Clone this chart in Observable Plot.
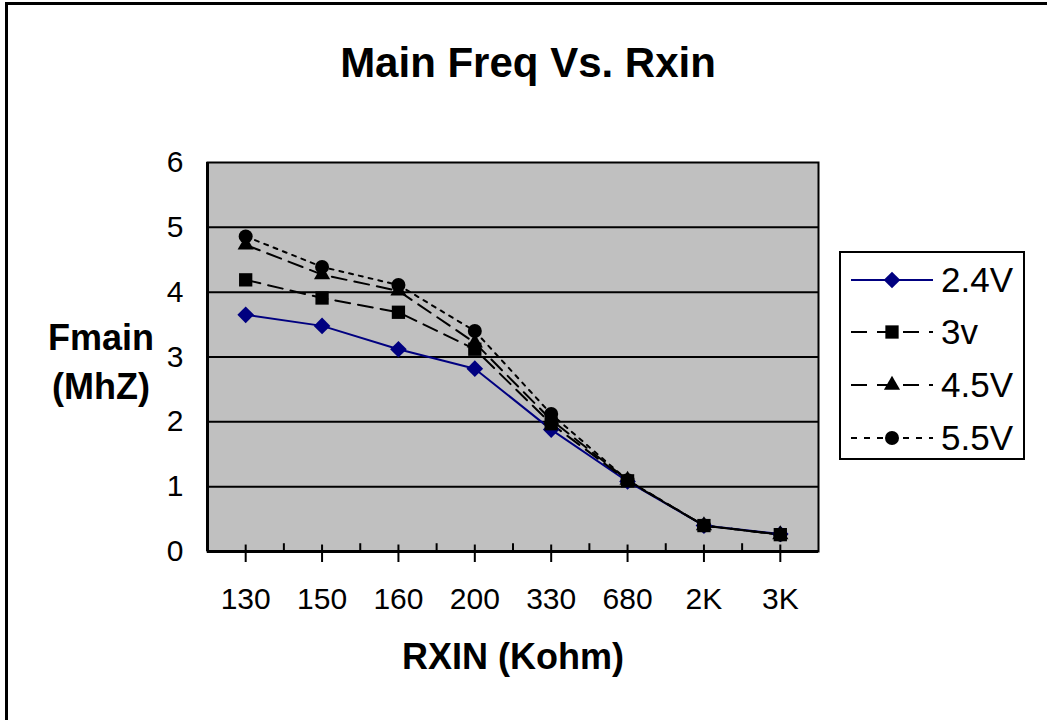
<!DOCTYPE html>
<html>
<head>
<meta charset="utf-8">
<script src="https://cdn.jsdelivr.net/npm/d3@7"></script>
<script src="https://cdn.jsdelivr.net/npm/@observablehq/plot@0.6"></script>
<style>
  html, body { margin: 0; padding: 0; background: #fff; overflow: hidden; }
  body { width: 1047px; height: 720px; position: relative; font-family: "Liberation Sans", Arial, sans-serif; }
  #frame { position: absolute; left: 5px; top: 2px; width: 1200px; height: 900px; border-left: 3px solid #000; border-top: 3px solid #000; }
  #chart { position: absolute; left: 0; top: 0; }
  .title { position: absolute; left: 0; width: 1056px; top: 40px; text-align: center; font-weight: bold; font-size: 42px; line-height: 46px; }
  .ylab { position: absolute; left: 30px; width: 142px; top: 313px; text-align: center; font-weight: bold; font-size: 36px; line-height: 49px; }
  .xlab { position: absolute; left: 300px; width: 426px; top: 636px; text-align: center; font-weight: bold; font-size: 36px; line-height: 42px; }
  #legend { position: absolute; left: 839px; top: 251px; width: 186px; height: 209px; border: 2px solid #000; background: #fff; box-sizing: border-box; }
  .row { position: absolute; left: 0; height: 40px; display: flex; align-items: center; }
  .row span { font-size: 35px; margin-left: 6px; }
</style>
</head>
<body>
<div id="frame"></div>
<div id="chart"></div>
<div class="title">Main Freq Vs. Rxin</div>
<div class="ylab">Fmain<br>(MhZ)</div>
<div class="xlab">RXIN (Kohm)</div>
<div id="legend"></div>
<script>
const categories = ["130", "150", "160", "200", "330", "680", "2K", "3K"];
const yTicks = [0, 1, 2, 3, 4, 5, 6];
const seriesNames = ["2.4V", "3v", "4.5V", "5.5V"];
const v24 = [3.65, 3.48, 3.12, 2.82, 1.88, 1.08, 0.40, 0.27];
const v3  = [4.19, 3.91, 3.69, 3.12, 1.97, 1.09, 0.40, 0.26];
const v45 = [4.73, 4.27, 4.02, 3.22, 2.03, 1.10, 0.40, 0.26];
const v55 = [4.86, 4.39, 4.11, 3.40, 2.12, 1.10, 0.40, 0.26];

const seriesValues = [v24, v3, v45, v55];
const styles = [
  {stroke: "#000080", dash: null, symbol: "diamond2", r: 7.5},
  {stroke: "#000000", dash: "15,8", symbol: "square", r: 7.5},
  {stroke: "#000000", dash: "15,8", symbol: "triangle", r: 6},
  {stroke: "#000000", dash: "4,6", symbol: "circle", r: 7}
];

const rows = [];
seriesValues.forEach((vals, s) => {
  vals.forEach((v, i) => rows.push({series: seriesNames[s], idx: i + 0.5, value: v}));
});
const centers = categories.map((c, i) => i + 0.5);
const bounds = d3.range(1, categories.length);

const marks = [
  Plot.frame({fill: "#c0c0c0"}),
  Plot.ruleY(yTicks.slice(1, -1), {stroke: "#000", strokeWidth: 2}),
  Plot.frame({stroke: "#000", strokeWidth: 2}),
  Plot.ruleX(bounds, {y1: 0, y2: 0.12, stroke: "#000", strokeWidth: 2}),
  Plot.ruleX(centers, {y1: 0, y2: 0.1, stroke: "#000", strokeWidth: 2}),
  Plot.axisX(centers, {tickFormat: d => categories[Math.round(d - 0.5)], tickSize: 11, tickPadding: 25, fontSize: 30, strokeWidth: 2, label: null}),
  Plot.axisY(yTicks, {tickFormat: d3.format("d"), tickSize: 0, tickPadding: 24, fontSize: 30, label: null}),
  Plot.ruleY([0], {stroke: "#000", strokeWidth: 3}),
  Plot.ruleX([0], {stroke: "#000", strokeWidth: 3})
];
seriesNames.forEach((name, s) => {
  const data = rows.filter(d => d.series === name);
  const st = styles[s];
  marks.push(Plot.line(data, {x: "idx", y: "value", stroke: st.stroke, strokeWidth: 2, strokeDasharray: st.dash}));
});
seriesNames.forEach((name, s) => {
  const data = rows.filter(d => d.series === name);
  const st = styles[s];
  marks.push(Plot.dot(data, {x: "idx", y: "value", symbol: () => st.symbol, fill: st.stroke, stroke: "none", r: st.r}));
});

const chart = Plot.plot({
  width: 1047,
  height: 720,
  marginLeft: 207,
  marginRight: 229,
  marginTop: 162,
  marginBottom: 169,
  style: {fontFamily: "'Liberation Sans', Arial, sans-serif", color: "#000", background: "transparent", overflow: "visible"},
  x: {type: "linear", domain: [0, categories.length], axis: null},
  y: {domain: [0, 6], axis: null},
  symbol: {type: "identity"},
  marks
});
document.getElementById("chart").appendChild(chart);

// Legend
const legend = document.getElementById("legend");
const rowTops = [7, 59, 112, 165];
seriesNames.forEach((name, s) => {
  const st = styles[s];
  const row = document.createElement("div");
  row.className = "row";
  row.style.top = rowTops[s] + "px";
  const svg = d3.create("svg").attr("width", 94).attr("height", 40);
  svg.append("line").attr("x1", 10).attr("x2", 92).attr("y1", 20).attr("y2", 20)
    .attr("stroke", st.stroke).attr("stroke-width", 2)
    .attr("stroke-dasharray", st.dash ? (s === 3 ? "6,7" : "16,10") : null);
  const sym = {diamond2: d3.symbolDiamond2, square: d3.symbolSquare, triangle: d3.symbolTriangle, circle: d3.symbolCircle}[st.symbol];
  svg.append("path").attr("transform", "translate(51,20)")
    .attr("d", d3.symbol(sym, Math.PI * st.r * st.r)())
    .attr("fill", st.stroke);
  row.appendChild(svg.node());
  const sp = document.createElement("span");
  sp.textContent = name;
  row.appendChild(sp);
  legend.appendChild(row);
});
</script>
</body>
</html>
